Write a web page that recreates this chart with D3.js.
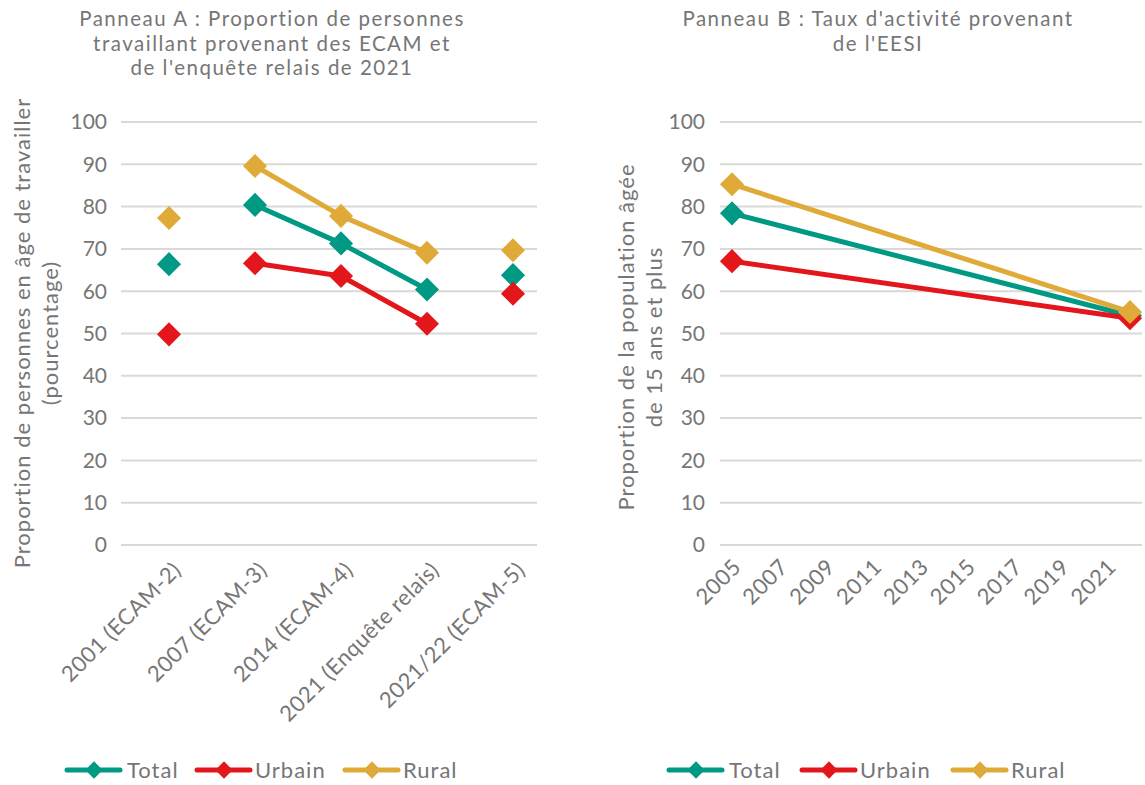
<!DOCTYPE html>
<html>
<head>
<meta charset="utf-8">
<script src="https://cdn.jsdelivr.net/npm/d3@7"></script>
<style>
  body { margin: 0; background: #fff; }
  text { font-family: "Lato", "Open Sans", sans-serif; fill: #767676; }
  .wide { font-size: 22px; letter-spacing: 1px; }
  .title { font-size: 20.5px; letter-spacing: 1.5px; }
  .tick { font-size: 21px; }
  .cat { font-size: 22px; letter-spacing: 0.5px; }
</style>
</head>
<body>
<div id="chart"></div>
<script>
// --- données ---
var seriesNames = ["Total", "Urbain", "Rural"];
var seriesColors = ["#009984", "#E3171B", "#E0AA38"];

// Panneau A
var catsA = ["2001 (ECAM-2)", "2007 (ECAM-3)", "2014 (ECAM-4)", "2021 (Enquête relais)", "2021/22 (ECAM-5)"];
var linkedA = ["2007 (ECAM-3)", "2014 (ECAM-4)", "2021 (Enquête relais)"];
var totalA  = [66.4, 80.4, 71.3, 60.4, 63.8];
var urbainA = [49.8, 66.6, 63.6, 52.3, 59.4];
var ruralA  = [77.3, 89.6, 77.8, 69.1, 69.7];

// Panneau B
var yearsB  = [2005, 2021];
var totalB  = [78.4, 54.2];
var urbainB = [67.1, 53.6];
var ruralB  = [85.3, 55.1];

var yTicks = [0, 10, 20, 30, 40, 50, 60, 70, 80, 90, 100];
var xTicksB = [2005, 2007, 2009, 2011, 2013, 2015, 2017, 2019, 2021];

var W = 1145, H = 785;
var svg = d3.select("#chart").append("svg").attr("width", W).attr("height", H);

function diamond(g, x, y, color) {
    g.append("path")
        .attr("d", d3.symbol().type(d3.symbolSquare).size(290)())
        .attr("transform", "translate(" + x + "," + y + ") rotate(45)")
        .style("fill", color);
}

// axe y + grille commun
function drawGrid(y, x0, x1, labelX) {
    var g = svg.append("g");
    g.selectAll("line").data(yTicks).enter().append("line")
        .attr("x1", x0).attr("x2", x1)
        .attr("y1", function(d) { return y(d); }).attr("y2", function(d) { return y(d); })
        .style("stroke", "#D9D9D9").style("stroke-width", 2);
    g.selectAll("text").data(yTicks).enter().append("text")
        .attr("class", "tick")
        .attr("x", labelX).attr("y", function(d) { return y(d); })
        .attr("dy", "0.35em").attr("text-anchor", "end")
        .text(function(d) { return d; });
}

function titleLines(lines, cx, y0) {
    lines.forEach(function(t, i) {
        svg.append("text").attr("class", "title").attr("x", cx).attr("y", y0 + i * 24.6)
            .attr("text-anchor", "middle").text(t);
    });
}

function yTitle(lines, x0, cy) {
    lines.forEach(function(t, i) {
        svg.append("text").attr("class", "wide")
            .attr("transform", "translate(" + (x0 + i * 28) + "," + cy + ") rotate(-90)")
            .attr("text-anchor", "middle").attr("dy", "0.35em")
            .text(t);
    });
}

function legend(x0, y, gaps) {
    var x = x0;
    seriesNames.forEach(function(name, i) {
        var g = svg.append("g");
        g.append("line").attr("x1", x).attr("x2", x + 53).attr("y1", y).attr("y2", y)
            .style("stroke", seriesColors[i]).style("stroke-width", 5).style("stroke-linecap", "round");
        g.append("path")
            .attr("d", d3.symbol().type(d3.symbolSquare).size(150)())
            .attr("transform", "translate(" + (x + 27) + "," + y + ") rotate(45)")
            .style("fill", seriesColors[i]);
        g.append("text").attr("class", "wide").attr("x", x + 58 + (i === 0 ? 2 : 0)).attr("y", y).attr("dy", "0.35em")
            .text(name);
        x += gaps[i];
    });
}

var y = d3.scaleLinear().domain([0, 100]).range([545, 122]);

// ---------- Panneau A ----------
titleLines(["Panneau A : Proportion de personnes", "travaillant provenant des ECAM et", "de l'enquête relais de 2021"], 272, 26);
drawGrid(y, 121, 537, 107);
yTitle(["Proportion de personnes en âge de travailler", "(pourcentage)"], 22, 333);

var xA = d3.scalePoint().domain(catsA).range([169, 513]);

svg.append("g").selectAll("text").data(catsA).enter().append("text")
    .attr("class", "cat")
    .attr("transform", function(d) { return "translate(" + (xA(d) + 8) + ",566) rotate(-45)"; })
    .attr("text-anchor", "end").attr("dy", "0.35em")
    .text(function(d) { return d; });

var dataA = [totalA, urbainA, ruralA];
var lineA = d3.line()
    .x(function(d) { return xA(d.c); })
    .y(function(d) { return y(d.v); });

dataA.forEach(function(vals, si) {
    var pts = catsA.map(function(c, i) { return { c: c, v: vals[i] }; });
    var linked = pts.filter(function(p) { return linkedA.indexOf(p.c) >= 0; });
    var g = svg.append("g");
    g.append("path").datum(linked).attr("d", lineA)
        .style("fill", "none").style("stroke", seriesColors[si]).style("stroke-width", 5)
        .style("stroke-linejoin", "round").style("stroke-linecap", "round");
    pts.forEach(function(p) { diamond(g, xA(p.c), y(p.v), seriesColors[si]); });
});

legend(67, 770, [130, 148, 0]);

// ---------- Panneau B ----------
titleLines(["Panneau B : Taux d'activité provenant", "de l'EESI"], 878, 26);
drawGrid(y, 720, 1142, 705);
yTitle(["Proportion de la population âgée", "de 15 ans et plus"], 626, 337);

var xB = d3.scaleLinear().domain([2005, 2021]).range([732, 1130]);
// les étiquettes d'années sont placées comme dans Excel (pas régulier, légèrement en retrait)
var xLabB = d3.scalePoint().domain(xTicksB).range([729, 1104]);

svg.append("g").selectAll("text").data(xTicksB).enter().append("text")
    .attr("class", "cat")
    .attr("transform", function(d) { return "translate(" + (xLabB(d) + 8) + ",563) rotate(-45)"; })
    .attr("text-anchor", "end").attr("dy", "0.35em")
    .text(function(d) { return d; });

var dataB = [totalB, urbainB, ruralB];
var lineB = d3.line()
    .x(function(d) { return xB(d.t); })
    .y(function(d) { return y(d.v); });

dataB.forEach(function(vals, si) {
    var pts = yearsB.map(function(t, i) { return { t: t, v: vals[i] }; });
    var g = svg.append("g");
    g.append("path").datum(pts).attr("d", lineB)
        .style("fill", "none").style("stroke", seriesColors[si]).style("stroke-width", 5)
        .style("stroke-linejoin", "round").style("stroke-linecap", "round");
    pts.forEach(function(p) { diamond(g, xB(p.t), y(p.v), seriesColors[si]); });
});

legend(669, 770, [133, 151, 0]);
</script>
</body>
</html>
